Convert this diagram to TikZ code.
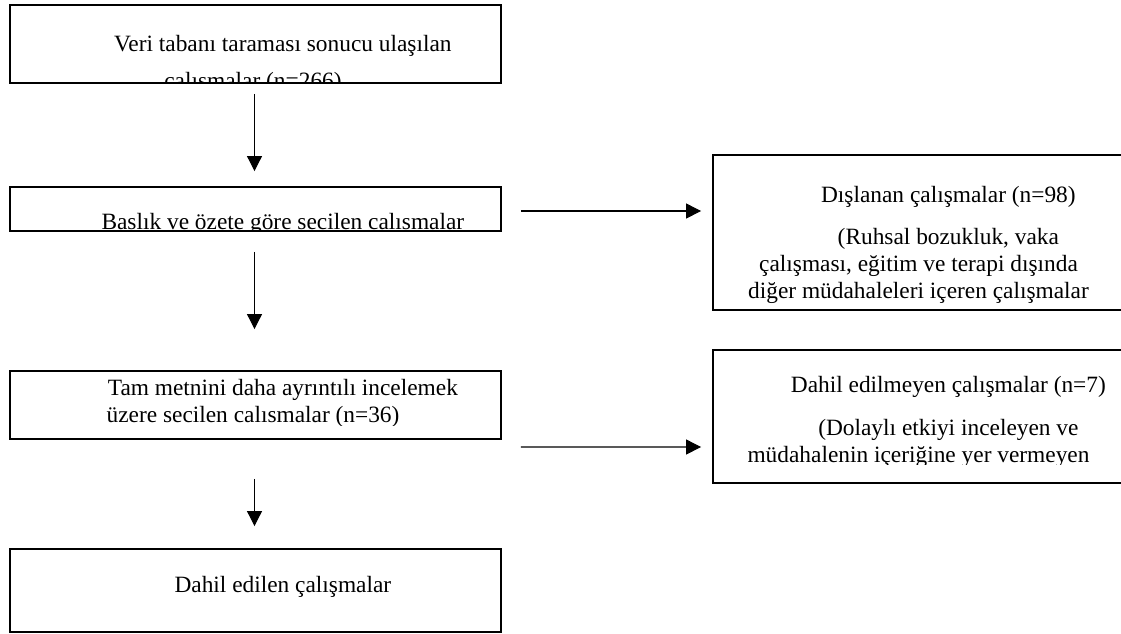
\documentclass[tikz,border=0pt]{standalone}
\usepackage{fontspec}
\setmainfont{Liberation Serif}
\usetikzlibrary{arrows.meta,calc}
\begin{document}
\begin{tikzpicture}[x=0.02cm, y=-0.02cm, >={Triangle[width=8.5pt,length=8.5pt]},
  box/.style={draw, line width=1.1pt, rectangle, inner sep=0pt},
  lbox/.style={box, minimum width=9.82cm},
  rbox/.style={box, minimum width=8.54cm},
  ptext/.style={text width=9cm, align=flush center, anchor=base, inner sep=0pt,
    font=\fontsize{13.3}{15.5}\selectfont},
  % #1,#2: first baseline from top centre, #3: cut-off above the bottom, #4: text
  txt/.style n args={4}{path picture={
    \clip (path picture bounding box.north west) rectangle ($(path picture bounding box.south east)+(0,-#3)$);
    \node[ptext] at ($(path picture bounding box.north)+(#1,#2)$) {#4};}},
  arr/.style={->, line width=0.6pt}]
\clip (0,0) rectangle (1121,633);
\node[lbox, minimum height=1.56cm, txt={-2.5}{46}{0}{\hspace*{34pt}Veri tabanı taraması sonucu ulaşılan\\[6pt]calısmalar (n=266)}] (tarama) at (255.5,44) {};
\node[lbox, minimum height=0.88cm, txt={-2.5}{42}{0}{\hspace*{34pt}Baslık ve özete göre secilen calısmalar}] (baslik) at (255.5,209) {};
\node[lbox, minimum height=1.36cm, txt={-2.5}{24}{14}{\hspace*{34pt}Tam metnini daha ayrıntılı incelemek\\üzere secilen calısmalar (n=36)}] (tammetin) at (255.5,405) {};
\node[lbox, minimum height=1.66cm, txt={-2.5}{43}{0}{\hspace*{34pt}Dahil edilen çalışmalar}] (dahil) at (255.5,590.5) {};
\node[rbox, minimum height=3.1cm, txt={-8}{47}{0}{\hspace*{34pt}Dışlanan çalışmalar (n=98)\\[8.5pt]\hspace*{34pt}(Ruhsal bozukluk, vaka\\çalışması, eğitim ve terapi dışında\\diğer müdahaleleri içeren çalışmalar}] (dislanan) at (926.5,232.5) {};
\node[rbox, minimum height=2.66cm, txt={-8}{42}{19}{\hspace*{34pt}Dahil edilmeyen çalışmalar (n=7)\\[9pt]\hspace*{34pt}(Dolaylı etkiyi inceleyen ve\\müdahalenin içeriğine yer vermeyen}] (edilmeyen) at (926.5,416.5) {};
\draw[arr] ($(tarama.south)+(-1,10)$) -- ($(baslik.north)+(-1,-15)$);
\draw[arr] ($(baslik.south)+(-1,20)$) -- ($(tammetin.north)+(-1,-41)$);
\draw[arr] ($(tammetin.south)+(-1,39)$) -- ($(dahil.north)+(-1,-22)$);
\draw[arr] ($(baslik.east)+(19,2)$) -- ($(dislanan.west)+(-11,-21.5)$);
\draw[arr] ($(tammetin.east)+(19,42)$) -- ($(edilmeyen.west)+(-11,30.5)$);
\end{tikzpicture}
\end{document}
